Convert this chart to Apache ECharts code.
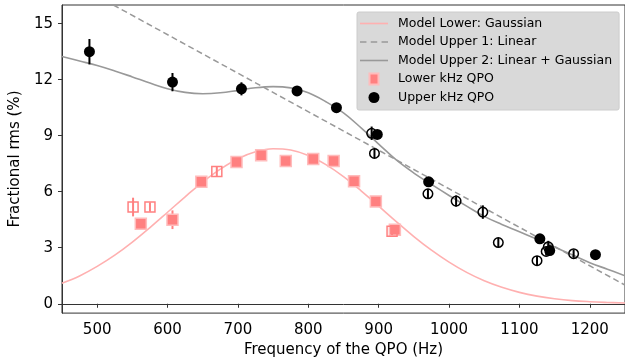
<!DOCTYPE html>
<html>
<head>
<meta charset="utf-8">
<script src="https://cdn.jsdelivr.net/npm/echarts@6/dist/echarts.min.js"></script>
<style>
  html, body { margin: 0; padding: 0; background: #fff; }
  #chart { width: 625px; height: 363px; }
</style>
</head>
<body>
<div id="chart"></div>
<script>
// ---- Data ----
const xTicks = [500, 600, 700, 800, 900, 1000, 1100, 1200];
const yTicks = [0, 3, 6, 9, 12, 15];

// Upper kHz QPO (filled circles)
const upperFilledFreq = [489, 607, 705, 784, 840, 898, 971, 1129, 1143, 1208];
const upperFilledRms  = [13.5, 11.87, 11.51, 11.4, 10.5, 9.07, 6.53, 3.48, 2.85, 2.63];
const upperFilledErr  = [0.68, 0.49, 0.35, 0.2, 0.2, 0.2, 0.2, 0.2, 0.2, 0.2];

// Upper kHz QPO (open circles)
const upperOpenFreq = [890, 894, 970, 1010, 1048, 1070, 1125, 1141, 1138, 1177];
const upperOpenRms  = [9.13, 8.05, 5.89, 5.5, 4.91, 3.28, 2.31, 3.05, 2.8, 2.68];
const upperOpenErr  = [0.36, 0.25, 0.25, 0.3, 0.36, 0.25, 0.25, 0.32, 0.22, 0.22];

// Lower kHz QPO (filled squares)
const lowerFilledFreq = [562, 607, 648, 698, 733, 768, 807, 836, 865, 896, 923];
const lowerFilledRms  = [4.28, 4.5, 6.54, 7.59, 7.96, 7.64, 7.75, 7.64, 6.56, 5.48, 3.97];
const lowerFilledErr  = [0.3, 0.5, 0.15, 0.15, 0.15, 0.15, 0.15, 0.15, 0.15, 0.15, 0.15];

// Lower kHz QPO (open squares)
const lowerOpenFreq = [551, 575, 670, 919];
const lowerOpenRms  = [5.18, 5.18, 7.08, 3.88];
const lowerOpenErr  = [0.5, 0.25, 0.25, 0.2];

// Model curves (every 25 Hz)
const modelFreq = [450, 475, 500, 525, 550, 575, 600, 625, 650, 675, 700, 725, 750, 775, 800, 825, 850, 875, 900, 925, 950, 975, 1000, 1025, 1050, 1075, 1100, 1125, 1150, 1175, 1200, 1225, 1250];
const lowerModelRms = [1.1, 1.49, 2.0, 2.6, 3.3, 4.08, 4.9, 5.73, 6.52, 7.21, 7.77, 8.14, 8.3, 8.23, 7.94, 7.45, 6.81, 6.05, 5.23, 4.4, 3.6, 2.87, 2.23, 1.68, 1.23, 0.88, 0.61, 0.41, 0.27, 0.17, 0.11, 0.07, 0.04];
const upper2Rms     = [13.24, 13.0, 12.76, 12.47, 12.15, 11.82, 11.52, 11.32, 11.25, 11.3, 11.43, 11.57, 11.63, 11.56, 11.3, 10.82, 10.22, 9.42, 8.55, 7.7, 7.0, 6.39, 5.8, 5.23, 4.68, 4.25, 3.86, 3.45, 3.04, 2.62, 2.2, 1.85, 1.5];

const upper1Freq = [523, 1250];
const upper1Rms  = [16.0, 1.0];

// ---- Build chart ----
const pairs = (xs, ys) => xs.map((x, i) => [x, ys[i]]);
const FONT = 'DejaVu Sans';
const PINK = '#ff8080';
const PINK_LINE = '#ffb0b0';
const GRAY = '#999999';

function errSeries(freq, rms, err, color, z) {
  return {
    type: 'custom',
    silent: true,
    z: z,
    clip: true,
    encode: { x: 0, y: [1, 2] },
    data: freq.map((f, i) => [f, rms[i] - err[i], rms[i] + err[i]]),
    renderItem: function (params, api) {
      const p1 = api.coord([api.value(0), api.value(1)]);
      const p2 = api.coord([api.value(0), api.value(2)]);
      return {
        type: 'line',
        shape: { x1: p1[0], y1: p1[1], x2: p2[0], y2: p2[1] },
        style: { stroke: color, lineWidth: 2 }
      };
    }
  };
}

const chart = echarts.init(document.getElementById('chart'), null, { renderer: 'canvas' });
chart.setOption({
  animation: false,
  backgroundColor: '#ffffff',
  textStyle: { fontFamily: FONT },
  grid: {
    left: 60, right: 0, top: 5, bottom: 48,
    show: true, borderColor: '#333', borderWidth: 1, backgroundColor: 'transparent'
  },
  xAxis: {
    type: 'value', min: 450, max: 1250,
    name: 'Frequency of the QPO (Hz)', nameLocation: 'middle', nameGap: 29,
    nameTextStyle: { fontSize: 15, color: '#000', fontFamily: FONT },
    axisLine: { show: true, lineStyle: { color: '#333', width: 1 } },
    axisTick: { show: true, inside: false, length: 4, customValues: xTicks, lineStyle: { color: '#333' } },
    axisLabel: { show: true, customValues: xTicks, fontSize: 15, color: '#000', margin: 10, fontFamily: FONT,
                 formatter: v => String(v) },
    splitLine: { show: false }
  },
  yAxis: {
    type: 'value', min: -0.5, max: 16,
    name: 'Fractional rms (%)', nameLocation: 'middle', nameGap: 34,
    nameTextStyle: { fontSize: 15, color: '#000', fontFamily: FONT },
    axisLine: { show: true, lineStyle: { color: '#333', width: 1 } },
    axisTick: { show: true, inside: false, length: 4, customValues: yTicks, lineStyle: { color: '#333' } },
    axisLabel: { show: true, customValues: yTicks, fontSize: 15, color: '#000', margin: 9, fontFamily: FONT,
                 formatter: v => String(v) },
    splitLine: { show: false }
  },
  legend: {
    orient: 'vertical',
    left: 357, top: 12,
    padding: [5, 7, 6, 3],
    backgroundColor: '#d9d9d9',
    borderColor: '#cccccc', borderWidth: 1, borderRadius: 2,
    itemWidth: 28, itemHeight: 11, itemGap: 5.5,
    textStyle: { fontSize: 12.5, lineHeight: 12, color: '#000', fontFamily: FONT, padding: [0, 0, 0, 5] },
    data: [
      { name: 'Model Lower: Gaussian', icon: 'path://M0,0H28V1.6H0Z' },
      { name: 'Model Upper 1: Linear', icon: 'path://M0,0H6V1.5H0Z M10,0H16V1.5H10Z M20,0H26V1.5H20Z' },
      { name: 'Model Upper 2: Linear + Gaussian', icon: 'path://M0,0H28V1.6H0Z' },
      { name: 'Lower kHz QPO', icon: 'path://M0,0H9V11H0Z' },
      { name: 'Upper kHz QPO', icon: 'circle' }
    ]
  },
  series: [
    {
      name: 'Model Lower: Gaussian', type: 'line', smooth: 0.4, symbol: 'none', showSymbol: false,
      z: 2, clip: true,
      lineStyle: { color: PINK_LINE, width: 1.6 }, itemStyle: { color: PINK_LINE },
      data: pairs(modelFreq, lowerModelRms)
    },
    {
      name: 'Model Upper 1: Linear', type: 'line', symbol: 'none', showSymbol: false,
      z: 2, clip: true,
      lineStyle: { color: GRAY, width: 1.5, type: [6, 3.5] }, itemStyle: { color: GRAY },
      data: pairs(upper1Freq, upper1Rms)
    },
    {
      name: 'Model Upper 2: Linear + Gaussian', type: 'line', smooth: 0.4, symbol: 'none', showSymbol: false,
      z: 2, clip: true,
      lineStyle: { color: GRAY, width: 1.6 }, itemStyle: { color: GRAY },
      data: pairs(modelFreq, upper2Rms)
    },
    errSeries(lowerFilledFreq, lowerFilledRms, lowerFilledErr, PINK, 3),
    errSeries(lowerOpenFreq, lowerOpenRms, lowerOpenErr, PINK, 5),
    errSeries(upperFilledFreq, upperFilledRms, upperFilledErr, '#000', 3),
    errSeries(upperOpenFreq, upperOpenRms, upperOpenErr, '#000', 5),
    {
      name: 'Lower kHz QPO', type: 'scatter', symbol: 'rect', symbolSize: 11, z: 4,
      itemStyle: { color: PINK, borderColor: '#ffbcbc', borderWidth: 1.5, opacity: 1 },
      data: pairs(lowerFilledFreq, lowerFilledRms)
    },
    {
      name: 'Lower kHz QPO (open)', type: 'scatter', symbol: 'rect', symbolSize: 10, z: 4,
      itemStyle: { color: 'rgba(255,255,255,0)', borderColor: PINK, borderWidth: 1.5, opacity: 1 },
      data: pairs(lowerOpenFreq, lowerOpenRms)
    },
    {
      name: 'Upper kHz QPO', type: 'scatter', symbol: 'circle', symbolSize: 11, z: 4,
      itemStyle: { color: '#000', opacity: 1 },
      data: pairs(upperFilledFreq, upperFilledRms)
    },
    {
      name: 'Upper kHz QPO (open)', type: 'scatter', symbol: 'circle', symbolSize: 9.5, z: 4,
      itemStyle: { color: 'rgba(255,255,255,0)', borderColor: '#000', borderWidth: 1.5, opacity: 1 },
      data: pairs(upperOpenFreq, upperOpenRms)
    }
  ]
});
</script>
</body>
</html>
